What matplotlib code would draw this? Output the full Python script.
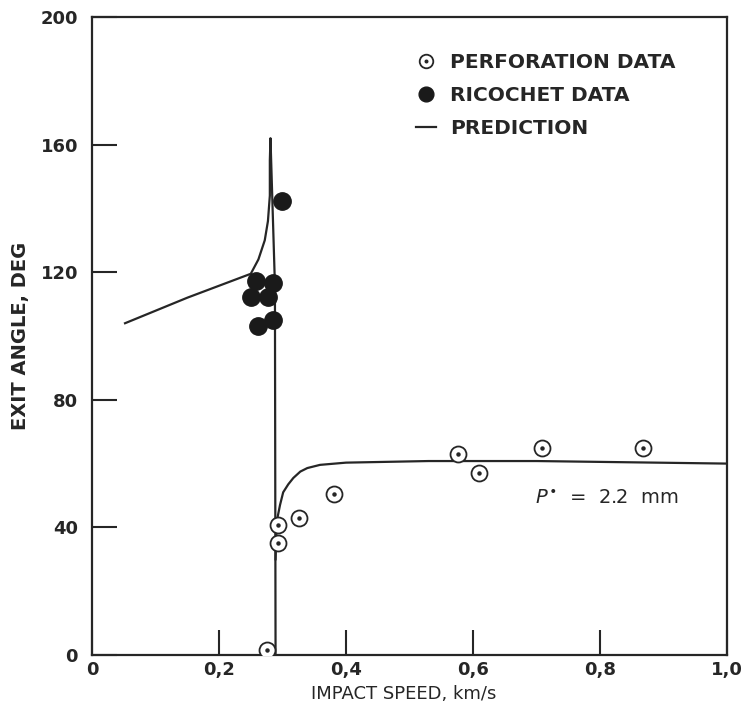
import numpy as np
import matplotlib
matplotlib.use("Agg")
import matplotlib.pyplot as plt
from matplotlib.legend_handler import HandlerTuple

# perforation data (open circle with centre dot)
perf_speed = [0.276, 0.293, 0.293, 0.326, 0.381, 0.576, 0.609, 0.709, 0.868]
perf_angle = [1.5, 40.7, 35.0, 43.0, 50.5, 63.0, 57.0, 65.0, 65.0]

# ricochet data (filled circles)
rico_speed = [0.299, 0.258, 0.285, 0.250, 0.277, 0.261, 0.285]
rico_angle = [142.3, 117.2, 116.6, 112.2, 112.2, 103.1, 105.0]

# prediction, ricochet branch (ends at the spike and drops to zero)
pred_r_speed = [0.052, 0.150, 0.250, 0.262, 0.272, 0.277, 0.280, 0.280, 0.281, 0.288, 0.289]
pred_r_angle = [104.0, 112.0, 119.5, 124.0, 130.0, 136.0, 144.0, 155.0, 162.0, 116.0, 0.0]

# prediction, perforation branch
pred_p_speed = [0.289, 0.291, 0.296, 0.301, 0.309, 0.317, 0.328, 0.339, 0.359, 0.40, 0.53, 0.70, 1.0]
pred_p_angle = [30.0, 42.0, 47.0, 51.0, 53.5, 55.5, 57.5, 58.6, 59.6, 60.3, 60.8, 60.8, 60.0]

xticks = [0, 0.2, 0.4, 0.6, 0.8, 1.0]
xticklabels = ["0", "0,2", "0,4", "0,6", "0,8", "1,0"]
yticks = [0, 40, 80, 120, 160, 200]

ink = "#262626"

fig = plt.figure(figsize=(7.45, 7.26), dpi=100)
ax = fig.add_axes([0.1235, 0.0978, 0.8525, 0.8788])

line, = ax.plot(pred_r_speed, pred_r_angle, color=ink, lw=1.6, zorder=2)
ax.plot(pred_p_speed, pred_p_angle, color=ink, lw=1.6, zorder=2)

ring, = ax.plot(perf_speed, perf_angle, ls="none", marker="o", ms=11.5,
                mfc="white", mec=ink, mew=1.3, zorder=3)
dot, = ax.plot(perf_speed, perf_angle, ls="none", marker="o", ms=2.2,
               mfc=ink, mec=ink, zorder=4)
full, = ax.plot(rico_speed, rico_angle, ls="none", marker="o", ms=12.5,
                mfc="#1a1a1a", mec="#1a1a1a", zorder=3)

ax.set_xlim(0, 1.0)
ax.set_ylim(0, 200)
# ticks at the ends fall on the spines, so only the labels show there
ax.set_xticks(xticks)
ax.set_xticklabels(xticklabels)
ax.set_yticks(yticks)
ax.set_yticklabels([str(v) for v in yticks])
ax.tick_params(direction="in", length=18, width=1.5, color=ink,
               labelsize=13, labelcolor=ink)
ax.tick_params(axis="x", pad=4)
ax.tick_params(axis="y", pad=10)
for lab in ax.get_xticklabels() + ax.get_yticklabels():
    lab.set_fontweight("bold")

for s in ax.spines.values():
    s.set_linewidth(1.6)
    s.set_color(ink)

ax.set_xlabel("IMPACT SPEED, km/s", fontsize=13, color=ink)
ax.xaxis.set_label_coords(0.491, -0.047)
ax.set_ylabel("EXIT ANGLE, DEG", fontsize=14, fontweight="bold", color=ink)
ax.yaxis.set_label_coords(-0.098, 0.5)

ax.legend([(ring, dot), full, line],
          ["PERFORATION DATA", "RICOCHET DATA", "PREDICTION"],
          handler_map={tuple: HandlerTuple(ndivide=1)},
          loc="upper left", bbox_to_anchor=(0.51, 0.944), frameon=False,
          borderpad=0, borderaxespad=0,
          prop={"weight": "bold", "size": 14.5}, handlelength=1.0,
          handletextpad=0.7, labelspacing=0.7, markerscale=0.85,
          labelcolor=ink)

ax.text(0.697, 49.5, r"$\mathit{P}^{\bullet}$  =  2.2  mm", fontsize=14,
        color=ink, va="center")

fig.savefig("out.png", dpi=100, facecolor="white")
